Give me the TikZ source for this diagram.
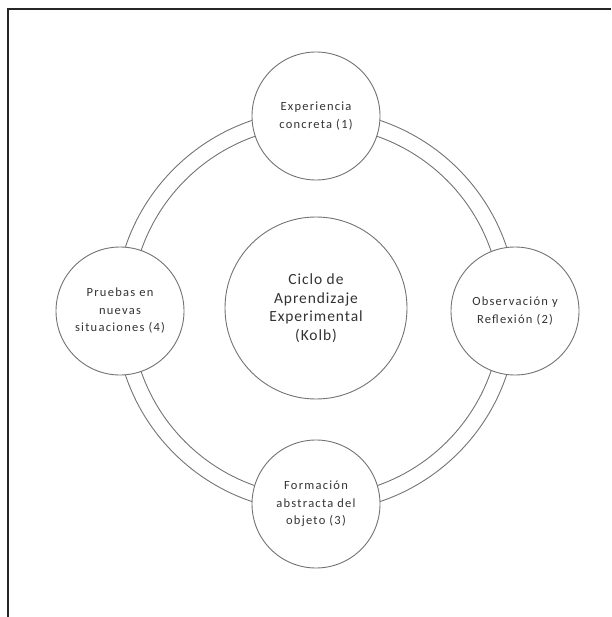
\documentclass[tikz,border=0pt]{standalone}
\usepackage{fontspec}
\setmainfont{Carlito}
\newfontfamily\stagefont{Carlito}[LetterSpace=10]
\newfontfamily\hubfont{Carlito}[LetterSpace=6]
\begin{document}
\begin{tikzpicture}[x=1pt,y=-1pt,
  ringline/.style={draw=black!55, line width=0.9pt},
  stage/.style={circle, draw=black!55, line width=0.9pt, fill=white,
    minimum size=128pt, inner sep=0pt, align=center,
    font=\stagefont\fontsize{12.5}{17.5}\selectfont, text=black!80},
  hub/.style={circle, draw=black!55, line width=0.9pt, fill=white,
    minimum size=182pt, inner sep=0pt, align=center,
    font=\hubfont\fontsize{15.5}{18.5}\selectfont, text=black!80},
  frameline/.style={draw=black!85, line width=2.2pt}]
\useasboundingbox (0,0) rectangle (611,617);
% frame
\coordinate (fr1) at (611,9);
\coordinate (fr2) at (8,9);
\coordinate (fr3) at (8,617);
\draw[frameline] (fr1) -- (fr2) -- (fr3);
% ring
\coordinate (ctr) at (316,311);
\draw[ringline] (ctr) circle[radius=201pt];
\draw[ringline] (ctr) circle[radius=185pt];
% hub
\node[hub] (hub) at (316,308) {Ciclo de\\Aprendizaje\\Experimental\\(Kolb)};
% stages
\node[stage] (s1) at (316,116) {Experiencia\\concreta (1)};
\node[stage] (s2) at (515,311) {Observación y\\Reflexión (2)};
\node[stage] (s3) at (316,504) {Formación\\abstracta del\\objeto (3)};
\node[stage] (s4) at (120,311) {Pruebas en\\nuevas\\situaciones (4)};
\end{tikzpicture}
\end{document}
